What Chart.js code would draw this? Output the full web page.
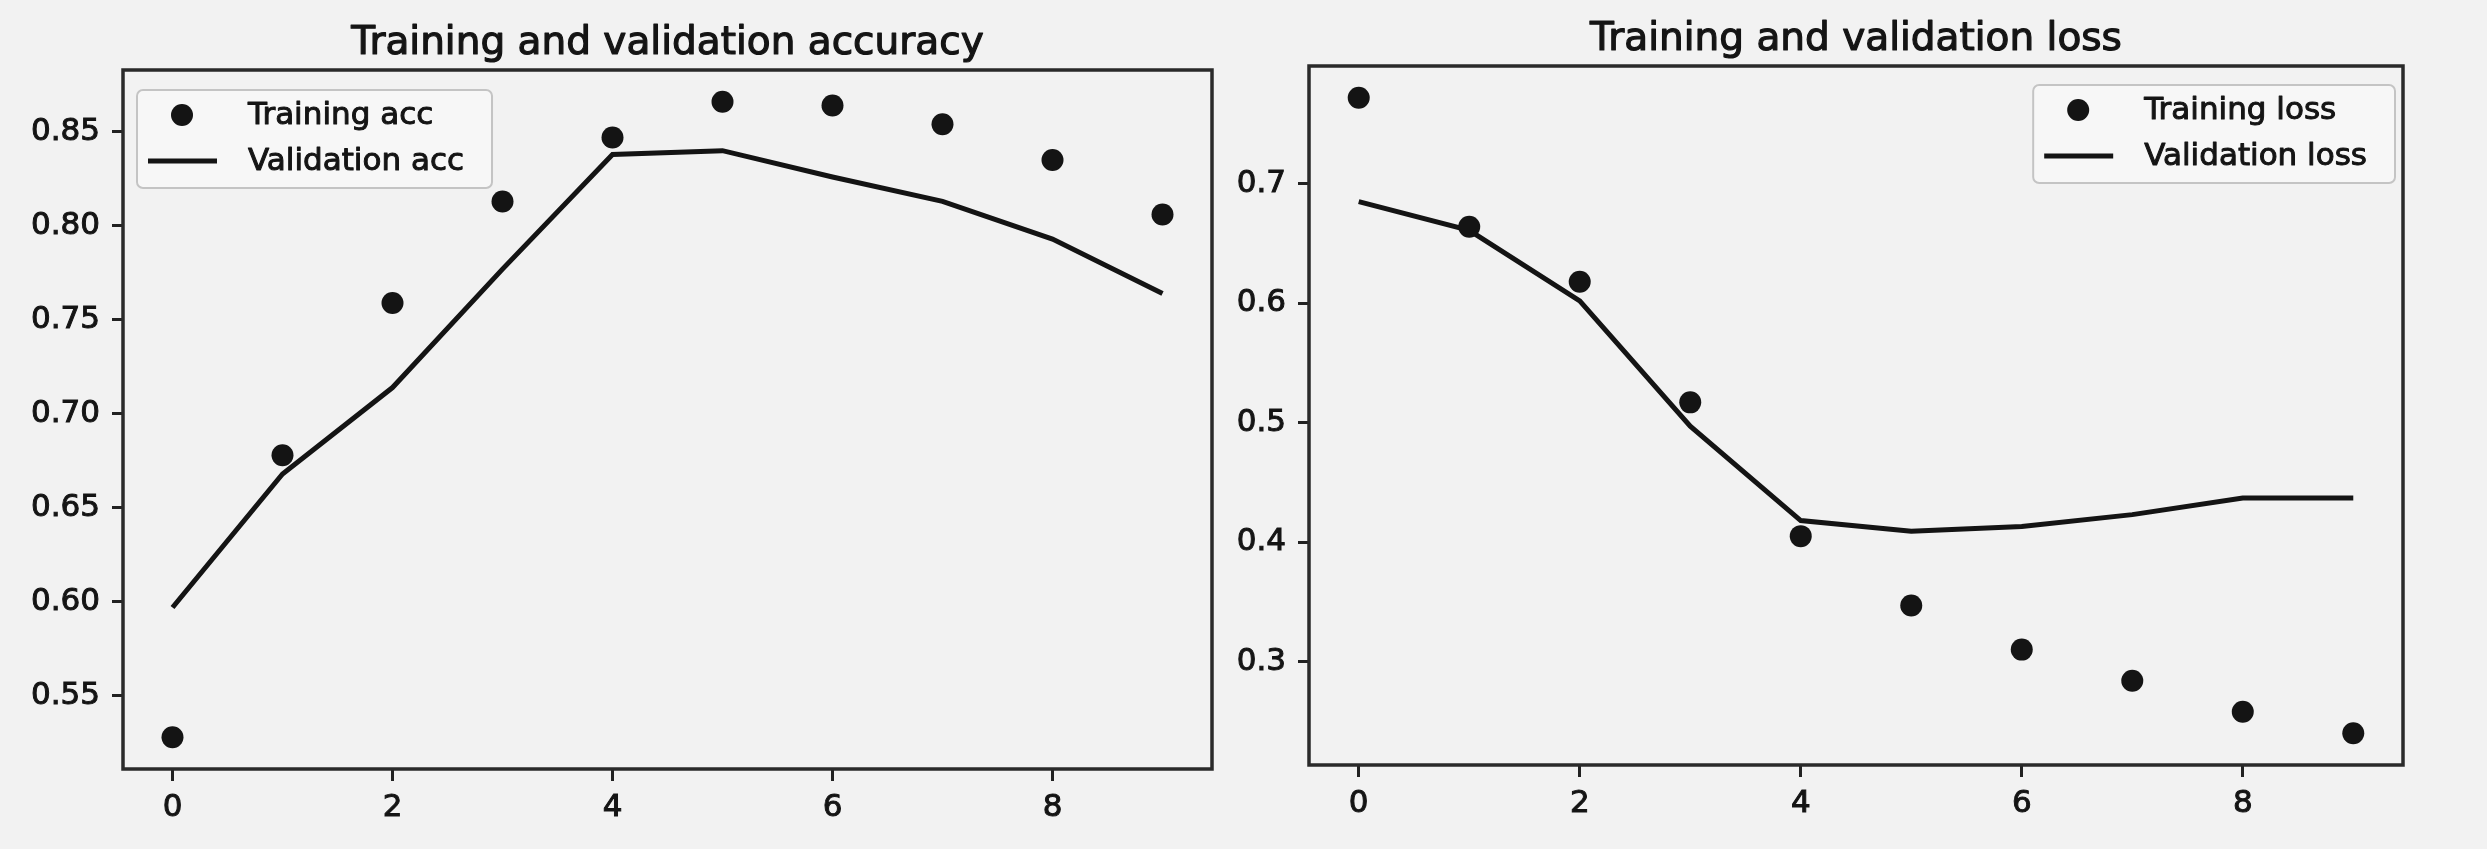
<!DOCTYPE html>
<html><head><meta charset="utf-8">
<script src="https://cdn.jsdelivr.net/npm/chart.js@4.4.0/dist/chart.umd.min.js"></script>
<style>
html,body{margin:0;padding:0;background:#f2f2f2;width:2487px;height:849px;overflow:hidden;}
.box{position:absolute;top:0;height:849px;}
#b1{left:0;width:1225px;} #b2{left:1225px;width:1262px;}
canvas{display:block;}
</style></head><body>
<div class="box" id="b1"><canvas id="c1" width="1225" height="849"></canvas></div>
<div class="box" id="b2"><canvas id="c2" width="1262" height="849"></canvas></div>
<script>
// ---- data ----
const epochs = [0, 1, 2, 3, 4, 5, 6, 7, 8, 9];
const trainingAcc   = [0.528, 0.678, 0.759, 0.813, 0.847, 0.866, 0.864, 0.854, 0.835, 0.806];
const validationAcc = [0.597, 0.668, 0.714, 0.777, 0.838, 0.840, 0.826, 0.813, 0.793, 0.764];
const trainingLoss   = [0.772, 0.664, 0.618, 0.517, 0.405, 0.347, 0.310, 0.284, 0.258, 0.240];
const validationLoss = [0.685, 0.661, 0.602, 0.497, 0.418, 0.409, 0.413, 0.423, 0.437, 0.437];
const epochTicks = [0, 2, 4, 6, 8];
const accTicks  = [0.55, 0.60, 0.65, 0.70, 0.75, 0.80, 0.85];
const lossTicks = [0.3, 0.4, 0.5, 0.6, 0.7];
const titles = ['Training and validation accuracy', 'Training and validation loss'];
const seriesLabels = [['Training acc', 'Validation acc'], ['Training loss', 'Validation loss']];

const FONT = 'DejaVu Sans';
const INK = '#141414';

function pts(ys) { return epochs.map((e, i) => ({x: e, y: ys[i]})); }
function padRange(a, b) {
  const lo = Math.min(...a, ...b), hi = Math.max(...a, ...b), m = (hi - lo) * 0.05;
  return [lo - m, hi + m];
}
function heavyText(ctx, s, x, y, w) {
  ctx.lineWidth = w; ctx.strokeStyle = INK; ctx.lineJoin = 'round';
  ctx.strokeText(s, x, y); ctx.fillText(s, x, y);
}

const framePlugin = {
  id: 'frame',
  afterDatasetsDraw(chart, args, o) {
    const ctx = chart.ctx, a = chart.chartArea;
    ctx.save();
    ctx.strokeStyle = '#2a2a2a';
    ctx.lineWidth = 3.5;
    ctx.strokeRect(a.left, a.top, a.right - a.left, a.bottom - a.top);
    // title
    ctx.fillStyle = INK;
    ctx.font = '39px "' + FONT + '"';
    ctx.textAlign = 'center';
    ctx.textBaseline = 'alphabetic';
    heavyText(ctx, o.title, (a.left + a.right) / 2, o.titleY, 1.2);
    // legend
    const L = o.legend;
    ctx.font = '31px "' + FONT + '"';
    const tw = Math.max(...chart.data.datasets.map(d => ctx.measureText(d.label).width));
    const w = 11 + 69 + 31 + tw + 28, h = 98;
    const x0 = L.corner === 'left' ? a.left + L.dx : a.right - L.dx - w;
    const y0 = a.top + L.dy;
    ctx.beginPath();
    ctx.roundRect(x0, y0, w, h, 6);
    ctx.fillStyle = 'rgba(248,248,248,0.85)';
    ctx.fill();
    ctx.strokeStyle = '#c4c4c4';
    ctx.lineWidth = 2;
    ctx.stroke();
    ctx.textAlign = 'left';
    ctx.textBaseline = 'middle';
    chart.data.datasets.forEach((d, i) => {
      const cy = y0 + 25 + i * 46;
      if (d.showLine) {
        ctx.strokeStyle = INK; ctx.lineWidth = 5;
        ctx.beginPath(); ctx.moveTo(x0 + 11, cy); ctx.lineTo(x0 + 80, cy); ctx.stroke();
      } else {
        ctx.fillStyle = INK;
        ctx.beginPath(); ctx.arc(x0 + 45, cy, 11, 0, Math.PI * 2); ctx.fill();
      }
      ctx.fillStyle = INK;
      heavyText(ctx, d.label, x0 + 111, cy + 1, 1);
    });
    ctx.restore();
  }
};

function makeChart(id, idx, train, valid, yTicks, decimals, geo) {
  const [ymin, ymax] = padRange(train, valid);
  const tickFont = {family: FONT, size: 31};
  return new Chart(document.getElementById(id), {
    type: 'line',
    data: {
      datasets: [
        {label: seriesLabels[idx][0], data: pts(train), showLine: false, pointRadius: 11,
         pointBackgroundColor: INK, pointBorderWidth: 0, pointHoverRadius: 11},
        {label: seriesLabels[idx][1], data: pts(valid), showLine: true, pointRadius: 0,
         borderColor: INK, borderWidth: 5, tension: 0, fill: false}
      ]
    },
    options: {
      responsive: false, animation: false, devicePixelRatio: 1,
      layout: {padding: {left: 0, right: geo.right, top: geo.top, bottom: 0}},
      plugins: {legend: {display: false}, tooltip: {enabled: false},
        frame: {title: titles[idx], titleY: geo.titleY, legend: geo.legend}},
      scales: {
        x: {type: 'linear', min: -0.45, max: 9.45,
          afterBuildTicks: ax => { ax.ticks = epochTicks.map(v => ({value: v})); },
          afterFit: ax => { ax.height = geo.bottom; },
          grid: {display: true, drawOnChartArea: false, drawTicks: true, tickLength: 12, tickWidth: 3, tickColor: '#222'},
          border: {display: false},
          ticks: {padding: 8, color: INK, font: tickFont, textStrokeColor: INK, textStrokeWidth: 1,
            callback: v => String(v)}},
        y: {type: 'linear', min: ymin, max: ymax,
          afterBuildTicks: ax => { ax.ticks = yTicks.map(v => ({value: v})); },
          afterFit: ax => { ax.width = geo.left; },
          grid: {display: true, drawOnChartArea: false, drawTicks: true, tickLength: 11, tickWidth: 3, tickColor: '#222'},
          border: {display: false},
          ticks: {padding: 12, color: INK, font: tickFont, textStrokeColor: INK, textStrokeWidth: 1,
            callback: v => Number(v).toFixed(decimals)}}
      }
    },
    plugins: [framePlugin]
  });
}

makeChart('c1', 0, trainingAcc, validationAcc, accTicks, 2,
  {left: 123, right: 13, top: 70, bottom: 80, titleY: 54, legend: {corner: 'left', dx: 14, dy: 20}});
makeChart('c2', 1, trainingLoss, validationLoss, lossTicks, 1,
  {left: 84, right: 84, top: 66, bottom: 84, titleY: 50, legend: {corner: 'right', dx: 8, dy: 19}});
</script>
</body></html>
